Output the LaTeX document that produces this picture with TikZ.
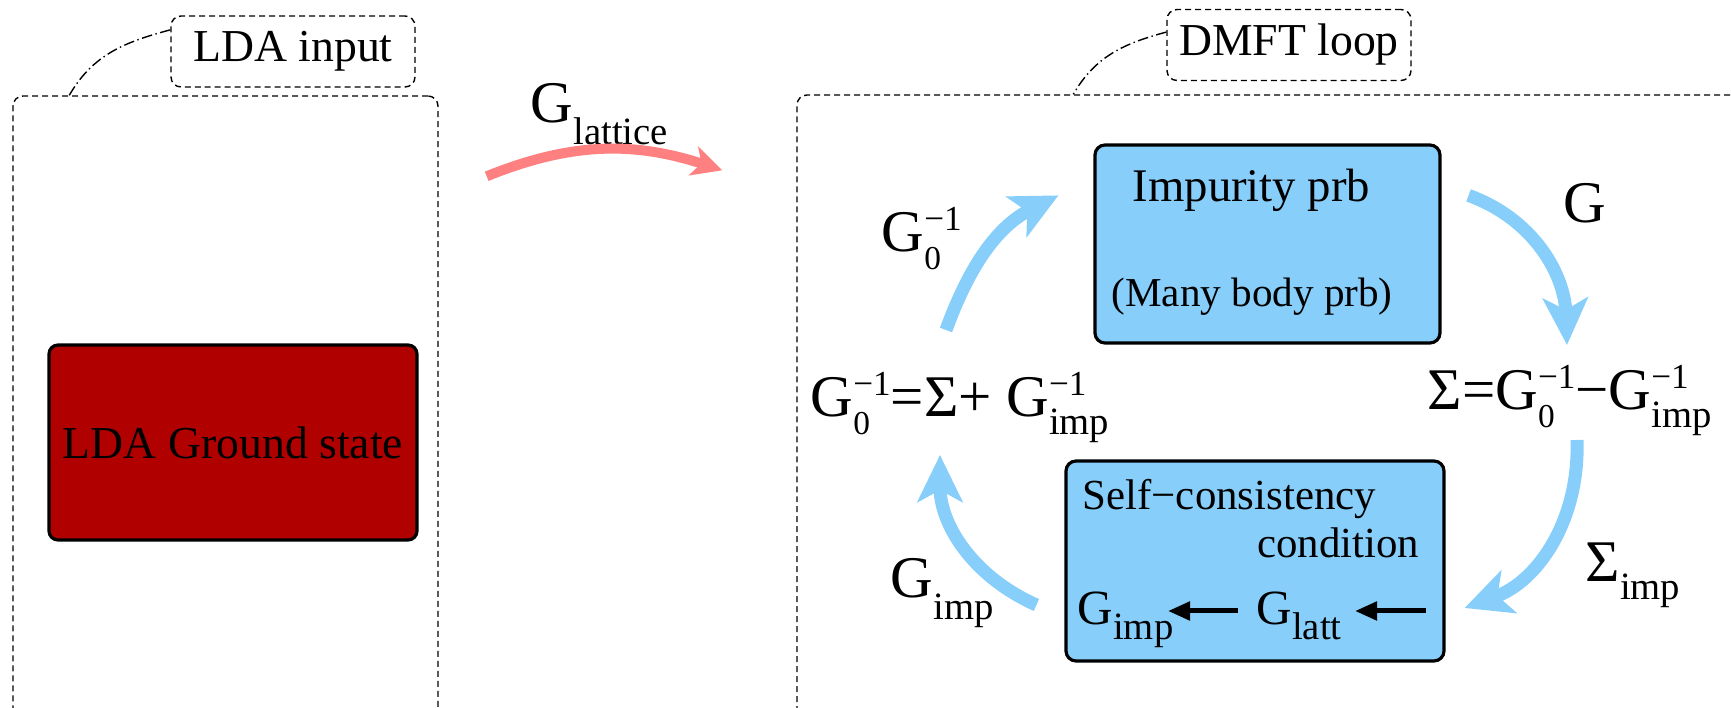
\documentclass[tikz,border=0pt]{standalone}
\usepackage{fontspec}
\setmainfont{Liberation Serif}
\usepackage{xcolor}
\usepackage{tikz}
\usetikzlibrary{arrows.meta}
\definecolor{ldared}{RGB}{176,0,0}
\definecolor{skyblue}{RGB}{135,206,250}
\definecolor{feedred}{RGB}{255,128,128}
\newcommand{\lo}[2][5pt]{\raisebox{-#1}{\fontsize{11}{11}\selectfont #2}}
\newcommand{\hi}[1]{\raisebox{6pt}{\fontsize{10}{10}\selectfont #1}}
\newcommand{\Gzinv}{G\rlap{\raisebox{-5pt}{\fontsize{9.5}{9.5}\selectfont 0}}\hi{−1}}
\newcommand{\Giinv}{G\rlap{\hi{−1}}\lo{imp}}

\begin{document}
\begin{tikzpicture}[
    font=\fontsize{13}{15}\selectfont,
    frame/.style={draw, dash pattern=on 0.06cm off 0.04cm, line width=0.4pt, rounded corners=0.1cm, inner sep=0},
    tag/.style={frame, minimum width=2.44cm, minimum height=0.71cm},
    redbox/.style={draw, line width=0.9pt, rounded corners=0.09cm, fill=ldared, minimum width=3.68cm, minimum height=1.95cm},
    bluebox/.style={draw, line width=0.9pt, rounded corners=0.1cm, fill=skyblue, inner sep=0},
    txt/.style={inner sep=0, anchor=base west},
    bigG/.style={txt, font=\fontsize{16.8}{18}\selectfont},
    link/.style={densely dashdotted, line width=0.4pt},
    loop/.style={-{Stealth[length=0.47cm, width=0.45cm, inset=0.12cm]}, line width=0.13cm, skyblue},
    feed/.style={-{Stealth[length=0.3cm, width=0.3cm, inset=0.08cm]}, line width=0.1cm, feedred},
    blk/.style={-{Triangle[length=0.22cm, width=0.18cm]}, line width=0.05cm}
]
\useasboundingbox (0,0) rectangle (17.31,-7.08);
\clip (0,0) rectangle (17.31,-7.08);

% Frames and their tags
\node[frame, minimum width=4.25cm, minimum height=6.22cm] (ldabox) at (2.255,-4.07) {};
\node[frame, minimum width=9.63cm, minimum height=6.23cm] (dmftbox) at (12.785,-4.065) {};
\node[tag] (ldalbl) at (2.93,-0.515) {LDA input};
\node[tag] (dmftlbl) at (12.89,-0.45) {DMFT loop};
\draw[link] (ldalbl.170) to[out=195,in=60] ([xshift=0.57cm]ldabox.north west);
\draw[link] (dmftlbl.174) to[out=195,in=60] ([xshift=2.77cm]dmftbox.north west);

% LDA side
\node[redbox] (gs) at (2.33,-4.425) {LDA Ground state};

% Impurity problem
\node[bluebox, minimum width=3.45cm, minimum height=1.98cm] (imp) at (12.675,-2.44) {};
\node[txt, font=\fontsize{13.3}{15}\selectfont] (implbl) at (11.32,-2.02) {Impurity prb};
\node[txt, font=\fontsize{11.7}{14}\selectfont] (manylbl) at (11.11,-3.07) {(Many body prb)};

% Self-consistency
\node[bluebox, minimum width=3.78cm, minimum height=2.00cm] (sc) at (12.55,-5.61) {};
\node[txt, font=\fontsize{12.2}{14}\selectfont] (selflbl) at (10.82,-5.10) {Self−consistency};
\node[txt, anchor=base east, font=\fontsize{12.2}{14}\selectfont] (condlbl) at (14.20,-5.58) {condition};
\node[txt, font=\fontsize{14}{16}\selectfont] (gimp) at (10.77,-6.25) {G\lo[4pt]{imp}};
\node[txt, font=\fontsize{14}{16}\selectfont] (glatt) at (12.56,-6.25) {G\lo[4pt]{latt}};
\coordinate (sctail) at (14.26,-6.11);
\draw[blk] ([xshift=-0.18cm,yshift=0.14cm]glatt.base west) -- ([xshift=0.91cm,yshift=0.14cm]gimp.base west);
\draw[blk] (sctail) -- ([xshift=0.99cm,yshift=0.14cm]glatt.base west);

% Equations
\node[bigG] (eqG0) at (8.10,-4.17) {\Gzinv=Σ+ \Giinv};
\node[bigG] (eqSig) at (14.27,-4.10) {Σ=\Gzinv−\Giinv};

% Arrow labels
\node[bigG] (glatlbl) at (5.30,-1.23) {G\lo[6pt]{lattice}};
\node[bigG] (g0lbl) at (8.81,-2.52) {\Gzinv};
\node[bigG] (glbl) at (15.63,-2.23) {G};
\node[bigG] (sigimplbl) at (15.85,-5.82) {Σ\lo{imp}};
\node[bigG] (gimplbl) at (8.90,-5.98) {G\lo[6pt]{imp}};

% Arrows
\draw[feed] ([xshift=0.48cm,yshift=-0.81cm]ldabox.north east) to[out=22,in=162] ([xshift=-0.74cm,yshift=-0.76cm]dmftbox.north west);
\draw[loop] ([xshift=1.36cm,yshift=0.87cm]eqG0.base west) to[out=70,in=207] ([xshift=-0.35cm,yshift=-0.52cm]imp.north west);
\draw[loop] ([xshift=0.27cm,yshift=-0.52cm]imp.north east) to[out=-20,in=92] ([xshift=1.40cm,yshift=0.65cm]eqSig.base west);
\draw[loop] ([xshift=1.50cm,yshift=-0.30cm]eqSig.base west) to[out=-88,in=20] ([xshift=0.19cm,yshift=-0.47cm]sc.east);
\draw[loop] ([xshift=-0.28cm,yshift=-0.44cm]sc.west) to[out=156,in=-90] ([xshift=1.30cm,yshift=-0.38cm]eqG0.base west);

\end{tikzpicture}
\end{document}
